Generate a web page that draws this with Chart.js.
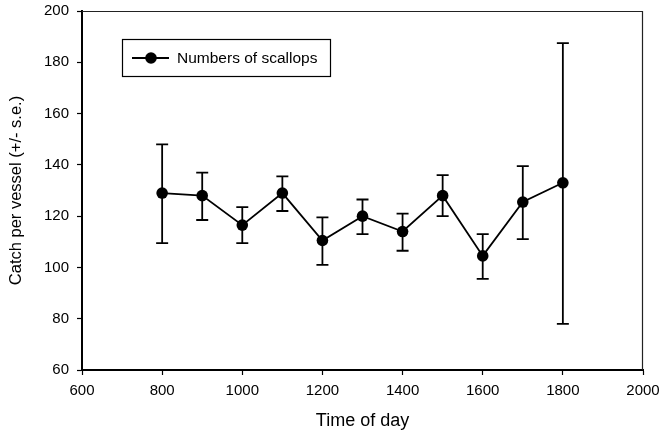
<!DOCTYPE html>
<html>
<head>
<meta charset="utf-8">
<script src="https://cdn.jsdelivr.net/npm/chart.js@4/dist/chart.umd.min.js"></script>
<style>
  html, body { margin: 0; padding: 0; background: #fff; }
  #wrap { width: 661px; height: 432px; position: relative; }
</style>
</head>
<body>
<div id="wrap"><canvas id="mainChart"></canvas></div>
<script>
// catch per vessel by hour of day, mean with +/- s.e.
const times = [800, 900, 1000, 1100, 1200, 1300, 1400, 1500, 1600, 1700, 1800];
const means = [129, 128, 116.5, 129, 110.5, 120, 114, 128, 104.5, 125.5, 133];
const upper = [148, 137, 123.5, 135.5, 119.5, 126.5, 121, 136, 113, 139.5, 187.5];
const lower = [109.5, 118.5, 109.5, 122, 101, 113, 106.5, 120, 95.5, 111, 78];
const seriesName = 'Numbers of scallops';

const FONT = 'Arial, "Liberation Sans", Helvetica, sans-serif';

// error bars with caps, drawn under the line and markers
const errorBars = {
    id: 'errorBars',
    beforeDatasetsDraw(chart) {
        const ctx = chart.ctx;
        const xs = chart.scales.x, ys = chart.scales.y;
        ctx.save();
        ctx.strokeStyle = '#000';
        ctx.lineWidth = 1.8;
        times.forEach((t, i) => {
            const px = xs.getPixelForValue(t);
            const top = ys.getPixelForValue(upper[i]);
            const bot = ys.getPixelForValue(lower[i]);
            ctx.beginPath();
            ctx.moveTo(px, top); ctx.lineTo(px, bot);
            ctx.moveTo(px - 6, top); ctx.lineTo(px + 6, top);
            ctx.moveTo(px - 6, bot); ctx.lineTo(px + 6, bot);
            ctx.stroke();
        });
        ctx.restore();
    }
};

// thin frame on the top and right of the plot, plus the boxed legend
const frameAndLegend = {
    id: 'frameAndLegend',
    afterDraw(chart) {
        const ctx = chart.ctx;
        const a = chart.chartArea;
        ctx.save();
        ctx.strokeStyle = '#222';
        ctx.lineWidth = 1.2;
        ctx.beginPath();
        ctx.moveTo(a.left, a.top + 0.5);
        ctx.lineTo(a.right - 0.5, a.top + 0.5);
        ctx.lineTo(a.right - 0.5, a.bottom);
        ctx.stroke();

        // legend box
        ctx.strokeStyle = '#000';
        ctx.strokeRect(122.5, 39.5, 208, 37);
        ctx.lineWidth = 1.8;
        ctx.beginPath();
        ctx.moveTo(132, 58); ctx.lineTo(169, 58);
        ctx.stroke();
        ctx.fillStyle = '#000';
        ctx.beginPath();
        ctx.arc(151, 58, 5.8, 0, Math.PI * 2);
        ctx.fill();
        ctx.font = '15.5px ' + FONT;
        ctx.textBaseline = 'middle';
        ctx.textAlign = 'left';
        ctx.fillText(seriesName, 177, 58.5);
        ctx.restore();
    }
};

const ctx = document.getElementById('mainChart').getContext('2d');
new Chart(ctx, {
    type: 'line',
    data: {
        datasets: [{
            label: seriesName,
            data: times.map((t, i) => ({ x: t, y: means[i] })),
            borderColor: '#000',
            backgroundColor: '#000',
            borderWidth: 1.8,
            tension: 0,
            pointRadius: 5.8,
            pointHoverRadius: 5.8,
            pointBorderWidth: 0
        }]
    },
    options: {
        responsive: true,
        maintainAspectRatio: false,
        animation: false,
        layout: { padding: { top: 11, right: 0, left: 0, bottom: 0 } },
        plugins: { legend: { display: false }, tooltip: { enabled: false } },
        scales: {
            x: {
                type: 'linear',
                min: 600, max: 2000,
                afterFit(s) { s.height = 62; s.paddingLeft = 0; s.paddingRight = 18; },
                ticks: {
                    stepSize: 200, color: '#000', padding: 7,
                    maxRotation: 0, autoSkip: false,
                    font: { family: FONT, size: 15 },
                    callback: v => String(v)
                },
                grid: { drawOnChartArea: false, tickLength: 5, color: '#000', tickWidth: 1.2 },
                border: { color: '#000', width: 2 },
                title: {
                    display: true, text: 'Time of day', color: '#000',
                    font: { family: FONT, size: 18 }, padding: { top: 4, bottom: 0 }
                }
            },
            y: {
                min: 60, max: 200,
                afterFit(s) { s.width = 82; s.paddingTop = 0; s.paddingBottom = 0; },
                ticks: {
                    stepSize: 20, color: '#000', padding: 8,
                    font: { family: FONT, size: 15 }
                },
                grid: { drawOnChartArea: false, tickLength: 5, color: '#000', tickWidth: 1.2 },
                border: { color: '#000', width: 2 },
                title: {
                    display: true, text: 'Catch per vessel (+/- s.e.)', color: '#000',
                    font: { family: FONT, size: 16.5 }, padding: { top: 7, bottom: 0 }
                }
            }
        }
    },
    plugins: [errorBars, frameAndLegend]
});
</script>
</body>
</html>
